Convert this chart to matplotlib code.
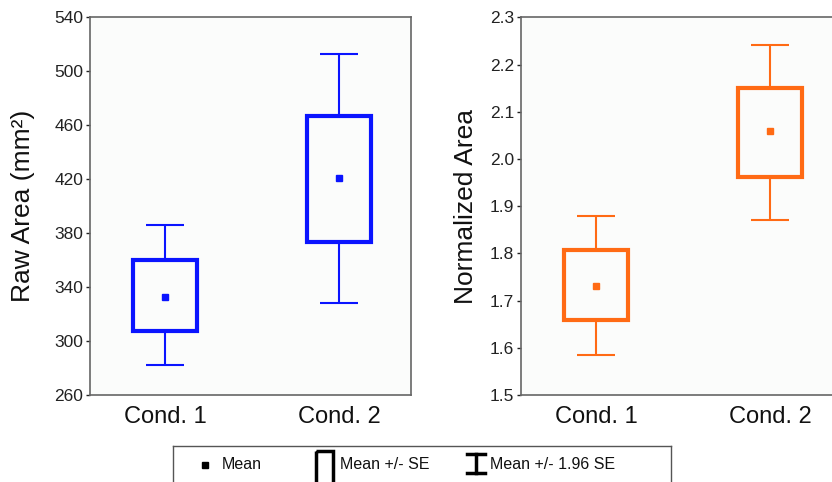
import matplotlib
matplotlib.use("Agg")
import matplotlib.pyplot as plt
import matplotlib.patches as patches

plt.rcParams['font.family'] = ['Liberation Sans', 'DejaVu Sans']

# data
conds = ['Cond. 1', 'Cond. 2']
raw_mean = [332.8, 420.5]
raw_se_lo = [307.6, 373.6]
raw_se_hi = [360.2, 466.9]
raw_ci_lo = [282.4, 328.0]
raw_ci_hi = [386.1, 512.6]

norm_mean = [1.730, 2.060]
norm_se_lo = [1.659, 1.962]
norm_se_hi = [1.807, 2.150]
norm_ci_lo = [1.585, 1.870]
norm_ci_hi = [1.880, 2.242]

raw_ticks = [260, 300, 340, 380, 420, 460, 500, 540]
norm_ticks = [1.5, 1.6, 1.7, 1.8, 1.9, 2.0, 2.1, 2.2, 2.3]

fig = plt.figure(figsize=(8.32, 4.82), dpi=100)
ax1 = fig.add_axes([0.1082, 0.1805, 0.3855, 0.7836])
ax2 = fig.add_axes([0.6262, 0.1805, 0.3855, 0.7836])

box_w = 0.367
cap_w = 0.218
x = [1, 2]


def draw_panel(ax, color, mean, se_lo, se_hi, ci_lo, ci_hi, ticks, ylabel, lab_x):
    ax.set_facecolor('#fbfcfb')
    heights = [h - l for h, l in zip(se_hi, se_lo)]
    ax.bar(x, heights, bottom=se_lo, width=box_w, facecolor='none',
           edgecolor=color, linewidth=3, zorder=3)
    ax.vlines(x, se_hi, ci_hi, color=color, linewidth=1.5, zorder=2)
    ax.vlines(x, ci_lo, se_lo, color=color, linewidth=1.5, zorder=2)
    ax.hlines(ci_hi, [xi - cap_w / 2 for xi in x], [xi + cap_w / 2 for xi in x],
              color=color, linewidth=1.5, zorder=2)
    ax.hlines(ci_lo, [xi - cap_w / 2 for xi in x], [xi + cap_w / 2 for xi in x],
              color=color, linewidth=1.5, zorder=2)
    ax.plot(x, mean, 's', color=color, ms=5, zorder=4)

    ax.set_xlim(0.57, 2.41)
    ax.set_ylim(ticks[0], ticks[-1])
    ax.set_yticks(ticks)
    ax.set_xticks(x)
    ax.set_xticklabels(conds, fontsize=17, color='#111111')
    ax.tick_params(axis='x', length=0, pad=8)
    ax.tick_params(axis='y', length=3, width=1, pad=2, labelsize=12.5,
                   colors='#222222', direction='out')
    for s in ax.spines.values():
        s.set_color('#666666')
        s.set_linewidth(1.2)
    ax.set_ylabel(ylabel, fontsize=19, color='#111111')
    ax.yaxis.set_label_coords(lab_x, 0.5)


draw_panel(ax1, '#0a14ff', raw_mean, raw_se_lo, raw_se_hi, raw_ci_lo, raw_ci_hi,
           raw_ticks, 'Raw Area (mm²)', -0.17)
ax1.yaxis.set_major_formatter(matplotlib.ticker.FormatStrFormatter('%d'))
draw_panel(ax2, '#ff6a14', norm_mean, norm_se_lo, norm_se_hi, norm_ci_lo, norm_ci_hi,
           norm_ticks, 'Normalized Area', -0.134)
ax2.yaxis.set_major_formatter(matplotlib.ticker.FormatStrFormatter('%.1f'))

# legend box (runs off the bottom of the figure like the original)
lg = fig.add_axes([173 / 832, -0.06, 498 / 832, 0.1349])
lg.set_xlim(173, 671)
lg.set_ylim(511, 446)
lg.set_xticks([])
lg.set_yticks([])
lg.set_facecolor('white')
for s in lg.spines.values():
    s.set_color('#555555')
    s.set_linewidth(1)
lg.plot([205], [465], 's', color='black', ms=4.5)
lg.text(222, 465, 'Mean', fontsize=11.5, va='center', ha='left', color='#111111')
lg.add_patch(patches.Rectangle((316, 451), 17, 40, facecolor='none',
                               edgecolor='black', linewidth=2.5))
lg.text(340, 465, 'Mean +/- SE', fontsize=11.5, va='center', ha='left', color='#111111')
lg.plot([476, 476], [454, 473], color='black', linewidth=2.5)
lg.plot([467, 485], [454, 454], color='black', linewidth=2.5)
lg.plot([467, 485], [473, 473], color='black', linewidth=2.5)
lg.text(490, 465, 'Mean +/- 1.96 SE', fontsize=11.5, va='center', ha='left', color='#111111')

fig.savefig('out.png', dpi=100)
